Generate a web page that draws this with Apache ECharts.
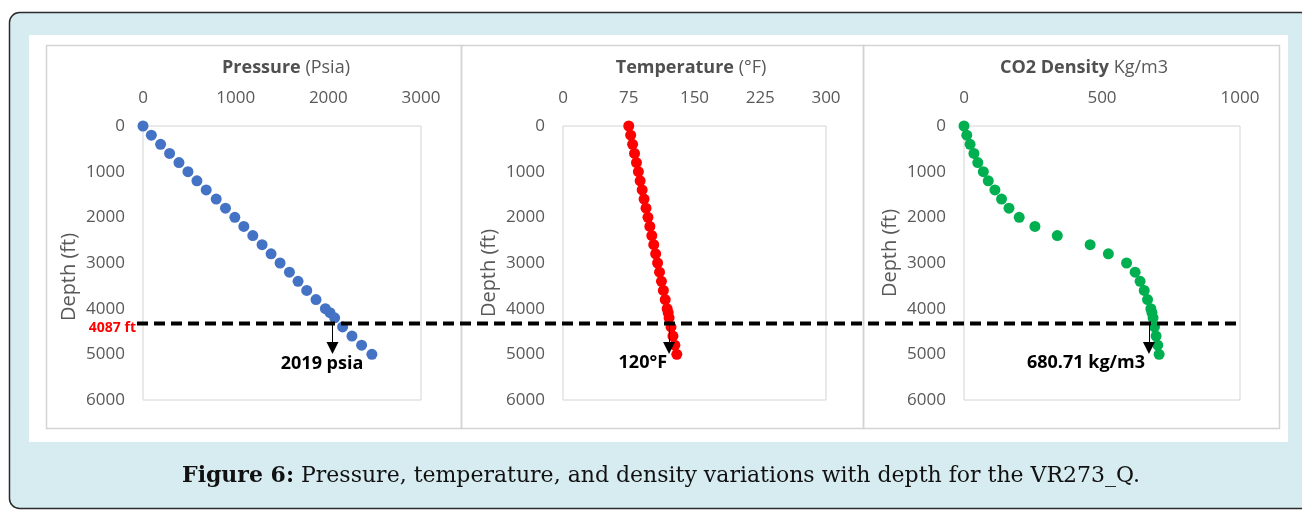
<!DOCTYPE html>
<html>
<head>
<meta charset="utf-8">
<script src="https://cdn.jsdelivr.net/npm/echarts@6/dist/echarts.min.js"></script>
<style>
html,body{margin:0;padding:0;background:#ffffff;}
#c{width:1302px;height:510px;}
</style>
</head>
<body>
<div id="c"></div>
<script>
// ---- data ----
const depthFt = [0,200,400,600,800,1000,1200,1400,1600,1800,2000,2200,2400,2600,2800,3000,3200,3400,3600,3800,4000,4087,4200,4400,4600,4800,5000];
const pressurePsia = [0,90,190,287,388,485,582,682,790,890,991,1088,1185,1285,1382,1479,1580,1673,1767,1867,1968,2018,2068,2154,2255,2359,2470];
const temperatureF = [75,77.2,79.4,81.6,83.8,86,88,90.3,92.5,94.7,96.9,99.1,101.3,103.5,105.7,107.9,110.1,112.3,114.5,116.6,118.8,120,121,123.2,125.4,127.6,129.8];
const densityKgm3 = [0,10,22,36,50,70,88,112,136,163,200,257,338,457,523,589,620,638,653,665,677,681,685,690,696,702,707];

const pressureTicks = [0,1000,2000,3000];
const temperatureTicks = [0,75,150,225,300];
const densityTicks = [0,500,1000];
const depthTicks = [0,1000,2000,3000,4000,5000,6000];

const cutLineDepth = 4310;          // where the dashed line sits on the depth axis
const cutLabel = '4087 ft';
const arrowX = [2045, 121, 670];    // arrow positions on each x axis
const arrowEndDepth = 4860;
const noteText = ['2019 psia', '120°F', '680.71 kg/m3'];
const noteAt = [[1932, 5212], [91, 5190], [442, 5190]];

const panelTitles = [
  ['Pressure', ' (Psia)'],
  ['Temperature', ' (°F)'],
  ['CO2 Density', ' Kg/m3']
];
const captionBold = 'Figure 6:';
const captionText = ' Pressure, temperature, and density variations with depth for the VR273_Q.';

// ---- layout ----
const FONT = 'Open Sans';
const GRAY = '#595959';
const grids = [
  {left:143, top:126, width:278, height:274},
  {left:563, top:126, width:263, height:274},
  {left:964, top:126, width:276, height:274}
];
const titleX = [281, 686, 1079];
const xTicks = [pressureTicks, temperatureTicks, densityTicks];
const yValues = [pressurePsia, temperatureF, densityKgm3];
const colors = ['#4472c4', '#ff0000', '#00b050'];
const namePad = [[0,28,0,0],[0,20,0,0],[0,0,0,20]];

const chart = echarts.init(document.getElementById('c'), null, {renderer:'canvas'});

const option = {
  animation:false,
  backgroundColor:'transparent',
  title: panelTitles.map((t,i)=>({
    text:'{b|'+t[0]+'}{n|'+t[1]+'}',
    left:titleX[i], top:54, textAlign:'center',
    textStyle:{fontWeight:'normal', rich:{
      b:{fontFamily:FONT, fontSize:18, fontWeight:'bold', color:'#505050'},
      n:{fontFamily:FONT, fontSize:18, fontWeight:'normal', color:GRAY}
    }}
  })).concat([{
    text:'{b|'+captionBold+'}{n|'+captionText+'}',
    left:656, top:460, textAlign:'center',
    textStyle:{fontWeight:'normal', rich:{
      b:{fontFamily:'DejaVu Serif', fontSize:22, fontWeight:'bold', color:'#111'},
      n:{fontFamily:'DejaVu Serif', fontSize:22, fontWeight:'normal', color:'#111'}
    }}
  }]),
  grid: grids.map(g=>Object.assign({show:true, borderColor:'#d4d4d4', borderWidth:1, backgroundColor:'rgba(0,0,0,0)'}, g)),
  xAxis: xTicks.map((t,i)=>({
    gridIndex:i, type:'value', position:'top',
    min:t[0], max:t[t.length-1], interval:t[1]-t[0],
    axisLine:{show:false}, axisTick:{show:false}, splitLine:{show:false},
    axisLabel:{color:GRAY, fontFamily:FONT, fontSize:17, margin:19, showMaxLabel:true,
               formatter:v=>String(v)}
  })),
  yAxis: grids.map((g,i)=>({
    gridIndex:i, type:'value', inverse:true,
    min:depthTicks[0], max:depthTicks[depthTicks.length-1], interval:depthTicks[1]-depthTicks[0],
    axisLine:{show:false}, axisTick:{show:false}, splitLine:{show:false},
    axisLabel:{color:GRAY, fontFamily:FONT, fontSize:17, margin:18, formatter:v=>String(v)},
    name:'Depth (ft)', nameLocation:'middle', nameGap:64,
    nameTextStyle:{color:GRAY, fontFamily:FONT, fontSize:20, padding:namePad[i]}
  })),
  series: yValues.map((vals,i)=>({
    type:'scatter', xAxisIndex:i, yAxisIndex:i,
    symbol:'circle', symbolSize:11,
    itemStyle:{color:colors[i], opacity:1},
    data: vals.map((v,k)=>[v, depthFt[k]]),
    markLine:{
      silent:true, animation:false,
      symbol:['none','triangle'], symbolSize:12,
      lineStyle:{color:'#000', width:1, type:'solid'},
      itemStyle:{color:'#000'},
      label:{show:false},
      data:[[{coord:[arrowX[i], cutLineDepth]},{coord:[arrowX[i], arrowEndDepth]}]]
    },
    markPoint:{
      silent:true, animation:false,
      symbol:'circle', symbolSize:1, itemStyle:{color:'rgba(0,0,0,0)'},
      label:{show:true, position:'inside', formatter:noteText[i], color:'#000',
             fontFamily:FONT, fontWeight:'bold', fontSize:18},
      data:[{coord:noteAt[i]}]
    }
  }))
};
chart.setOption(option);

// background frame, panel borders, dashed depth line
const p0 = chart.convertToPixel({gridIndex:0}, [0, cutLineDepth]);
const lineY = Math.round(p0[1]) + 0.5;
const xStart = grids[0].left - 6;
const xEnd = grids[2].left + grids[2].width - 4;
chart.setOption({
  graphic:[
    {type:'rect', z:-10, shape:{x:9.5, y:12.5, width:1320, height:496, r:10},
     style:{fill:'#d7ecf1', stroke:'#2b2b2b', lineWidth:1.5}},
    {type:'rect', z:-9, shape:{x:29, y:35, width:1259, height:407}, style:{fill:'#ffffff'}},
    {type:'rect', z:-8, shape:{x:46.5, y:45.5, width:415, height:383}, style:{fill:'none', stroke:'#d4d4d4', lineWidth:1.5}},
    {type:'rect', z:-8, shape:{x:461.5, y:45.5, width:402, height:383}, style:{fill:'none', stroke:'#d4d4d4', lineWidth:1.5}},
    {type:'rect', z:-8, shape:{x:863.5, y:45.5, width:416, height:383}, style:{fill:'none', stroke:'#d4d4d4', lineWidth:1.5}},
    {type:'line', z:100, shape:{x1:xStart, y1:lineY, x2:xEnd, y2:lineY},
     style:{stroke:'#000', lineWidth:4, lineDash:[11,6]}},
    {type:'text', z:100, x:grids[0].left-7, y:lineY+5,
     style:{text:cutLabel, fill:'#ff0000', font:'bold 14px "Open Sans"', align:'right', verticalAlign:'middle'}}
  ]
});
</script>
</body>
</html>
